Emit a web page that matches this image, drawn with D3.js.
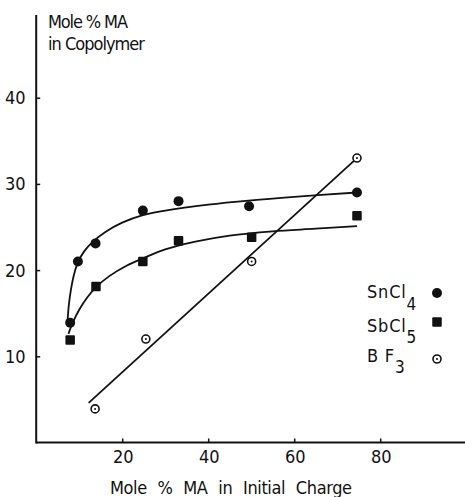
<!DOCTYPE html>
<html>
<head>
<meta charset="utf-8">
<script src="https://cdn.jsdelivr.net/npm/d3@7"></script>
<style>
  html, body { margin: 0; padding: 0; background: #fff; }
  svg { display: block; }
  text { font-family: "Liberation Sans Narrow", "DejaVu Sans Condensed", "Liberation Sans", sans-serif; fill: #111; }
</style>
</head>
<body>
<svg id="chart" width="465" height="497"></svg>
<script>
// Measured copolymer composition vs. initial charge, by catalyst
const chargeX = [7.9, 9.7, 13.8, 24.8, 33.1, 49.5, 74.6];
const sncl4Y  = [13.9, 21.0, 23.1, 26.9, 28.0, 27.4, 29.0];

const sbcl5X = [7.9, 13.9, 24.8, 33.1, 50.1, 74.6];
const sbcl5Y = [11.9, 18.1, 21.0, 23.4, 23.8, 26.3];

const bf3X = [13.7, 25.5, 50.1, 74.6];
const bf3Y = [3.9, 12.0, 21.0, 33.0];

// Smooth fitted curves drawn through the data
const sncl4FitX = [7.3, 7.6, 8.1, 8.8, 9.8, 11.2, 13.2, 16.0, 20.0, 25.0, 30.0, 40.0, 50.0, 60.0, 74.6];
const sncl4FitY = [14.2, 16.0, 17.8, 19.5, 21.0, 22.2, 23.3, 24.4, 25.5, 26.4, 26.9, 27.6, 28.1, 28.5, 29.0];

const sbcl5FitX = [7.5, 8.5, 10.0, 12.0, 14.1, 17.0, 21.0, 25.0, 30.0, 37.0, 45.0, 55.0, 65.0, 74.6];
const sbcl5FitY = [12.6, 13.9, 15.4, 16.9, 18.1, 19.3, 20.5, 21.4, 22.4, 23.3, 24.0, 24.5, 24.8, 25.1];

// Straight line for BF3
const bf3FitX = [12.2, 74.4];
const bf3FitY = [4.6, 32.9];

const xTicks = [20, 40, 60, 80];
const yTicks = [10, 20, 30, 40];

const svg = d3.select("#chart");

const x = d3.scaleLinear().domain([0, 100]).range([36.2, 466.2]);
const y = d3.scaleLinear().domain([0, 50]).range([442.5, 11.5]);

const ink = "#111";

// Axes with inward ticks
const xAxis = svg.append("g")
  .attr("transform", `translate(0,${y(0)})`)
  .call(d3.axisTop(x).tickValues(xTicks).tickSize(4).tickFormat(""));
xAxis.select(".domain").attr("d", `M${x(0)},0H${x(100)}`).attr("stroke", ink).attr("stroke-width", 2);
xAxis.selectAll(".tick line").attr("stroke", ink).attr("stroke-width", 1.5);

const yAxis = svg.append("g")
  .attr("transform", `translate(${x(0)},0)`)
  .call(d3.axisRight(y).tickValues(yTicks).tickSize(4).tickFormat(""));
yAxis.select(".domain").attr("d", `M0,${y(49.6)}V${y(0) + 1}`).attr("stroke", ink).attr("stroke-width", 2);
yAxis.selectAll(".tick line").attr("stroke", ink).attr("stroke-width", 1.5);

// Tick labels
svg.append("g").selectAll("text").data(xTicks).join("text")
  .attr("x", d => x(d) + 1).attr("y", 463)
  .attr("text-anchor", "middle").attr("font-size", 18)
  .text(d => d);

svg.append("g").selectAll("text").data(yTicks).join("text")
  .attr("x", 25.5).attr("y", d => y(d) + 6.5)
  .attr("text-anchor", "end").attr("font-size", 18)
  .text(d => d);

// Axis titles
svg.append("text").attr("x", 48).attr("y", 28).attr("font-size", 18)
  .attr("textLength", 80).attr("lengthAdjust", "spacing").text("Mole % MA");
svg.append("text").attr("x", 48).attr("y", 50).attr("font-size", 18)
  .attr("textLength", 97).attr("lengthAdjust", "spacing").text("in Copolymer");
svg.append("text").attr("x", 110).attr("y", 494).attr("font-size", 18)
  .attr("textLength", 242).attr("lengthAdjust", "spacing").attr("word-spacing", 6)
  .text("Mole % MA in Initial Charge");

// Fitted lines
const line = d3.line().x(d => x(d[0])).y(d => y(d[1])).curve(d3.curveCatmullRom.alpha(0.5));
const plotG = svg.append("g").attr("fill", "none").attr("stroke", ink).attr("stroke-width", 1.8);
plotG.append("path").attr("d", line(d3.zip(sncl4FitX, sncl4FitY)));
plotG.append("path").attr("d", line(d3.zip(sbcl5FitX, sbcl5FitY)));
plotG.append("path").attr("d", d3.line().x(d => x(d[0])).y(d => y(d[1]))(d3.zip(bf3FitX, bf3FitY)));

// Markers
const markG = svg.append("g");
markG.selectAll("circle.sn").data(d3.zip(chargeX, sncl4Y)).join("circle")
  .attr("class", "sn").attr("cx", d => x(d[0])).attr("cy", d => y(d[1]))
  .attr("r", 5).attr("fill", ink);

const sq = 9.5;
markG.selectAll("rect.sb").data(d3.zip(sbcl5X, sbcl5Y)).join("rect")
  .attr("class", "sb").attr("x", d => x(d[0]) - sq / 2).attr("y", d => y(d[1]) - sq / 2)
  .attr("width", sq).attr("height", sq).attr("rx", 1).attr("fill", ink);

function openDot(g, cx, cy) {
  g.append("circle").attr("cx", cx).attr("cy", cy).attr("r", 4)
    .attr("fill", "#fff").attr("stroke", ink).attr("stroke-width", 1.6);
  g.append("circle").attr("cx", cx).attr("cy", cy).attr("r", 1).attr("fill", ink);
}
d3.zip(bf3X, bf3Y).forEach(d => openDot(markG, x(d[0]), y(d[1])));

// Legend
const legend = svg.append("g");
const legendRows = [
  { name: "SnCl", sub: "4", base: 298, subBase: 310, my: 293, kind: "circle" },
  { name: "SbCl", sub: "5", base: 332, subBase: 343, my: 322, kind: "square" },
  { name: "B F", sub: "3", base: 362, subBase: 373, my: 359, kind: "open" }
];
legendRows.forEach(r => {
  const t = legend.append("text").attr("x", 367).attr("y", r.base).attr("font-size", 18)
    .attr("letter-spacing", 0.8);
  t.append("tspan").text(r.name);
  t.append("tspan").attr("y", r.subBase).attr("font-size", 17).text(r.sub);
  if (r.kind === "circle") {
    legend.append("circle").attr("cx", 437).attr("cy", r.my).attr("r", 5).attr("fill", ink);
  } else if (r.kind === "square") {
    legend.append("rect").attr("x", 437 - sq / 2).attr("y", r.my - sq / 2)
      .attr("width", sq).attr("height", sq).attr("rx", 1).attr("fill", ink);
  } else {
    openDot(legend, 437, r.my);
  }
});
</script>
</body>
</html>
